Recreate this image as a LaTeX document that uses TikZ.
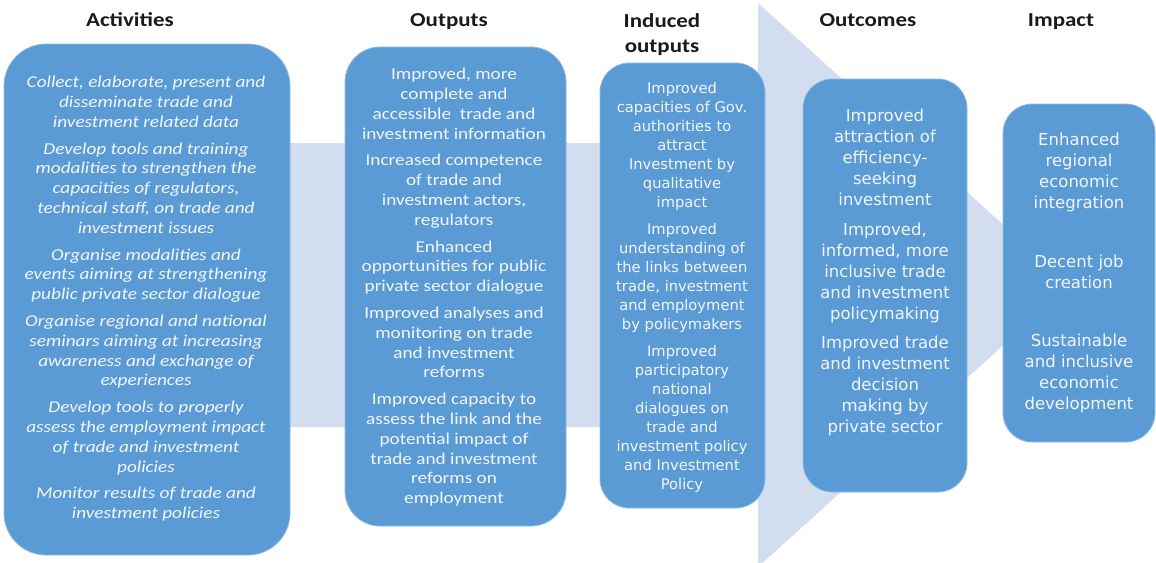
\documentclass[tikz,border=0pt]{standalone}
\usepackage{fontspec}
\setmainfont{Carlito}[FakeStretch=1.16]
\newfontfamily\tahlike{DejaVu Sans}
\definecolor{boxblue}{HTML}{5B9BD5}
\definecolor{arrowbg}{HTML}{D2DEEF}
\definecolor{boxtext}{HTML}{F2F6FB}
\definecolor{boxedge}{HTML}{8FBBE4}
\definecolor{headtext}{HTML}{1A1A1A}
\tikzset{
  box/.style={fill=boxblue, draw=boxedge, line width=0.8pt, inner sep=0pt},
  head/.style={font={\fontsize{19.8}{25}\selectfont\bfseries}, text=headtext, inner sep=0pt, align=center},
  cal/.style={font={\fontsize{16.6}{19.8}\selectfont}, text=boxtext, inner sep=0pt, align=center, anchor=north},
  calit/.style={font={\fontsize{16.6}{19.8}\selectfont\itshape}, text=boxtext, inner sep=0pt, align=center, anchor=north},
  dvs/.style={font={\tahlike\fontsize{14.7}{19}\selectfont}, text=boxtext, inner sep=0pt, align=center, anchor=north},
  dvl/.style={font={\tahlike\fontsize{16.5}{21}\selectfont}, text=boxtext, inner sep=0pt, align=center, anchor=north}
}
\begin{document}
\begin{tikzpicture}[x=1pt,y=-1pt]
\useasboundingbox (0,0) rectangle (1156,562);
\clip (0,0) rectangle (1156,562);
% background arrow
\fill[arrowbg] (150,143) -- (758,143) -- (758,3) -- (1070,285) -- (758,567) -- (758,427) -- (150,427) -- cycle;
% headers
\node[head, anchor=base] (hact) at (130,27) {Activities};
\node[head, anchor=base] (hout) at (449,27) {Outputs};
\node[head, anchor=north] (hind) at (662,11) {\rule{0pt}{16pt}Induced\\outputs};
\node[head, anchor=base] (hoc) at (868,27) {Outcomes};
\node[head, anchor=base] (himp) at (1061,27) {Impact};
% boxes
\node[box, rounded corners=42pt, minimum width=286pt, minimum height=511pt] (act) at (147,299.5) {};
\node[box, rounded corners=35pt, minimum width=221pt, minimum height=479pt] (out) at (455.5,286.5) {};
\node[box, rounded corners=29pt, minimum width=165pt, minimum height=445pt] (ind) at (682.5,285.5) {};
\node[box, rounded corners=29pt, minimum width=164pt, minimum height=413pt] (oc) at (885,285.5) {};
\node[box, rounded corners=29pt, minimum width=152pt, minimum height=338pt] (imp) at (1079,273) {};
% texts
\node[calit] (actT) at (146,74.5) {\rule{0pt}{13pt}Collect, elaborate, present and\\disseminate trade and\\investment related data\\[7pt]
Develop tools and training\\modalities to strengthen the\\capacities of regulators,\\technical staff, on trade and\\investment issues\\[7pt]
Organise modalities and\\events aiming at strengthening\\public private sector dialogue\\[7pt]
Organise regional and national\\seminars aiming at increasing\\awareness and exchange of\\experiences\\[7pt]
Develop tools to properly\\assess the employment impact\\of trade and investment\\policies\\[7pt]
Monitor results of trade and\\investment policies};
\node[cal] (outT) at (454,66.5) {\rule{0pt}{13pt}Improved, more\\complete and\\accessible~~trade and\\investment information\\[7pt]
Increased competence\\of trade and\\investment actors,\\regulators\\[7pt]
Enhanced\\opportunities for public\\private sector dialogue\\[7pt]
Improved analyses and\\monitoring on trade\\and investment\\reforms\\[7pt]
Improved capacity to\\assess the link and the\\potential impact of\\trade and investment\\reforms on\\employment};
\node[dvs] (indT) at (682,80.9) {\rule{0pt}{12pt}Improved\\capacities of Gov.\\authorities to\\attract\\Investment by\\qualitative\\impact\\[8pt]
Improved\\understanding of\\the links between\\trade, investment\\and employment\\by policymakers\\[8pt]
Improved\\participatory\\national\\dialogues on\\trade and\\investment policy\\and Investment\\Policy};
\node[dvl] (ocT) at (885,107.9) {\rule{0pt}{13.5pt}Improved\\attraction of\\efficiency-\\seeking\\investment\\[8.5pt]
Improved,\\informed, more\\inclusive trade\\and investment\\policymaking\\[8.5pt]
Improved trade\\and investment\\decision\\making by\\private sector};
\node[dvl] (impT) at (1079,131.9) {\rule{0pt}{13.5pt}Enhanced\\regional\\economic\\integration\\[38pt]
Decent job\\creation\\[37pt]
Sustainable\\and inclusive\\economic\\development};
\end{tikzpicture}
\end{document}
